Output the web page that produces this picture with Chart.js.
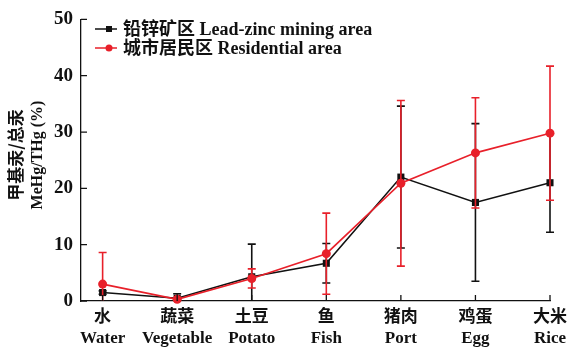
<!DOCTYPE html>
<html>
<head>
  <meta charset="UTF-8">
  <title>MeHg/THg by food type</title>
  <script src="https://cdn.jsdelivr.net/npm/chart.js"></script>
  <style>
    html, body { margin: 0; padding: 0; background: #fff; }
    #wrap { width: 573px; height: 349px; position: relative; }
  </style>
</head>
<body>
  <div id="wrap"><canvas id="hgChart"></canvas></div>

  <script>
    // Categories (Chinese / English)
    const categoriesCn = ['水', '蔬菜', '土豆', '鱼', '猪肉', '鸡蛋', '大米'];
    const categoriesEn = ['Water', 'Vegetable', 'Potato', 'Fish', 'Port', 'Egg', 'Rice'];

    // Series values (%) and their error bars (±)
    const leadZinc = [1.5, 0.5, 4.3, 6.7, 22.0, 17.5, 21.0];
    const leadZincErr = [0.3, 0.8, 5.8, 3.5, 12.6, 14.0, 8.8];
    const residential = [3.0, 0.3, 4.0, 8.4, 20.9, 26.3, 29.8];
    const residentialErr = [5.6, 0.3, 1.7, 7.2, 14.7, 9.8, 11.9];

    const yTicks = [0, 10, 20, 30, 40, 50];

    const BLACK = '#111111';
    const RED = 'rgb(232,32,42)';
    const SERIF = '"Liberation Serif", "Noto Sans CJK SC", serif';

    const toPoints = arr => arr.map((v, i) => ({ x: i, y: v }));

    // Error bars drawn under each dataset, using the chart's own scales
    const errorBars = {
      id: 'errorBars',
      beforeDatasetDraw(chart, args) {
        const ds = chart.data.datasets[args.index];
        if (!ds.errors) return;
        const { ctx, chartArea } = chart;
        const xs = chart.scales.x, ys = chart.scales.y;
        ctx.save();
        ctx.beginPath();
        ctx.rect(chartArea.left - 10, chartArea.top - 10, chartArea.width + 20, chartArea.height + 10);
        ctx.clip();
        ctx.strokeStyle = ds.borderColor;
        ctx.lineWidth = 1.6;
        ds.data.forEach((p, i) => {
          const e = ds.errors[i];
          const x = xs.getPixelForValue(p.x);
          const top = ys.getPixelForValue(p.y + e);
          const bot = ys.getPixelForValue(p.y - e);
          const cap = 4;
          ctx.beginPath();
          ctx.moveTo(x, top); ctx.lineTo(x, bot);
          ctx.moveTo(x - cap, top); ctx.lineTo(x + cap, top);
          ctx.moveTo(x - cap, bot); ctx.lineTo(x + cap, bot);
          ctx.stroke();
        });
        ctx.restore();
      }
    };

    // Inward tick marks, y axis title and legend
    const decorations = {
      id: 'decorations',
      afterDraw(chart) {
        const { ctx, chartArea } = chart;
        const xs = chart.scales.x, ys = chart.scales.y;
        ctx.save();
        ctx.strokeStyle = BLACK;
        ctx.lineWidth = 1.3;
        ctx.beginPath();
        yTicks.forEach(v => {
          const y = ys.getPixelForValue(v);
          ctx.moveTo(chartArea.left, y); ctx.lineTo(chartArea.left + 6, y);
        });
        categoriesEn.forEach((c, i) => {
          const x = xs.getPixelForValue(i);
          ctx.moveTo(x, chartArea.bottom); ctx.lineTo(x, chartArea.bottom - 6);
        });
        ctx.stroke();

        // y axis title (two rotated lines)
        ctx.fillStyle = BLACK;
        ctx.textAlign = 'center';
        ctx.textBaseline = 'middle';
        ctx.translate(0, 155);
        ctx.rotate(-Math.PI / 2);
        ctx.font = 'bold 17px "Noto Sans CJK SC", sans-serif';
        ctx.fillText('甲基汞/总汞', 0, 16);
        ctx.font = 'bold 16px ' + SERIF;
        ctx.fillText('MeHg/THg (%)', 0, 38);
        ctx.restore();

        // legend
        const items = [
          { label: '铅锌矿区 Lead-zinc mining area', color: BLACK, style: 'rect', y: 29 },
          { label: '城市居民区 Residential area', color: RED, style: 'circle', y: 48 }
        ];
        ctx.save();
        items.forEach(it => {
          ctx.strokeStyle = it.color;
          ctx.fillStyle = it.color;
          ctx.lineWidth = 1.5;
          ctx.beginPath();
          ctx.moveTo(95, it.y); ctx.lineTo(117, it.y);
          ctx.stroke();
          if (it.style === 'rect') {
            ctx.fillRect(106, it.y - 3, 6, 6);
          } else {
            ctx.beginPath();
            ctx.arc(109, it.y, 3.5, 0, Math.PI * 2);
            ctx.fill();
          }
          ctx.fillStyle = BLACK;
          ctx.textAlign = 'left';
          ctx.textBaseline = 'middle';
          ctx.font = 'bold 18px ' + SERIF;
          ctx.fillText(it.label, 123, it.y + 1);
        });
        ctx.restore();
      }
    };

    const ctx = document.getElementById('hgChart').getContext('2d');
    new Chart(ctx, {
      type: 'line',
      data: {
        datasets: [
          {
            label: '城市居民区 Residential area',
            data: toPoints(residential),
            errors: residentialErr,
            borderColor: RED,
            backgroundColor: RED,
            borderWidth: 1.6,
            pointStyle: 'circle',
            pointRadius: 4.5,
            pointBorderWidth: 0,
            order: 0,
            clip: false
          },
          {
            label: '铅锌矿区 Lead-zinc mining area',
            data: toPoints(leadZinc),
            errors: leadZincErr,
            borderColor: BLACK,
            backgroundColor: BLACK,
            borderWidth: 1.6,
            pointStyle: 'rect',
            pointRadius: 5,
            pointBorderWidth: 0,
            order: 1,
            clip: false
          }
        ]
      },
      options: {
        responsive: true,
        maintainAspectRatio: false,
        animation: false,
        layout: { padding: { top: 15, right: 18, left: 0, bottom: 0 } },
        plugins: {
          legend: { display: false },
          tooltip: { enabled: false }
        },
        scales: {
          x: {
            type: 'linear',
            min: -0.29,
            max: 6,
            afterFit(scale) { scale.height = 48; },
            afterBuildTicks(scale) {
              scale.ticks = categoriesEn.map((c, i) => ({ value: i }));
            },
            grid: { display: false, drawTicks: false },
            border: { display: true, color: BLACK, width: 1.3 },
            ticks: {
              padding: 6,
              color: BLACK,
              font: { family: SERIF, size: 17, weight: 'bold', lineHeight: 1.25 },
              callback: v => [categoriesCn[v], categoriesEn[v]]
            }
          },
          y: {
            min: 0,
            max: 50,
            afterFit(scale) { scale.width = 81; },
            afterBuildTicks(scale) {
              scale.ticks = yTicks.map(v => ({ value: v }));
            },
            grid: { display: false, drawTicks: false },
            border: { display: true, color: BLACK, width: 1.3 },
            ticks: {
              padding: 8,
              color: BLACK,
              font: { family: SERIF, size: 19, weight: 'bold' }
            }
          }
        }
      },
      plugins: [errorBars, decorations]
    });
  </script>
</body>
</html>
